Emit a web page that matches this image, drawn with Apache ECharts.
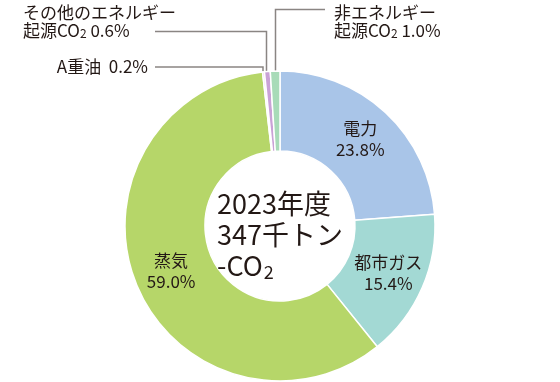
<!DOCTYPE html>
<html><head><meta charset="utf-8">
<script src="https://cdn.jsdelivr.net/npm/echarts@6/dist/echarts.min.js"></script>
<style>html,body{margin:0;padding:0;background:#fff}#c{width:560px;height:382px}</style>
</head><body><div id="c"></div>
<script>
const categories = ['電力', '都市ガス', '蒸気', 'A重油', 'その他のエネルギー起源CO2', '非エネルギー起源CO2'];
const values = [23.8, 15.4, 59.0, 0.2, 0.6, 1.0];
const colors = ['#a9c5e8', '#a3d9d4', '#b6d669', '#f3cfe3', '#c9a2d6', '#a8dbb8'];
const insideLabels = ['電力', '都市ガス', '蒸気'];
const centerLines = ['2023年度', '347千トン', '-CO'];

const FONT = '"Noto Sans CJK JP", "Noto Sans", sans-serif';
const TXT = '#231815';
const LINE = '#8a8583';

const chart = echarts.init(document.getElementById('c'), null, {renderer: 'canvas'});
const data = categories.map((c, i) => ({
  name: c, value: values[i],
  itemStyle: {color: colors[i]},
  label: {show: insideLabels.includes(c)}
}));

chart.setOption({
  animation: false,
  series: [{
    type: 'pie',
    center: [280, 226],
    radius: [75, 155],
    startAngle: 90,
    clockwise: true,
    silent: true,
    itemStyle: {borderColor: '#fff', borderWidth: 1.5},
    label: {
      position: 'inside',
      formatter: p => p.name + '\n' + p.value.toFixed(1) + '%',
      fontFamily: FONT, fontSize: 17, lineHeight: 21, color: TXT
    },
    labelLine: {show: false},
    data: data
  }],
  graphic: [
    {type: 'text', left: 'center', top: 188, z: 10, style: {
      text: centerLines[0] + '\n' + centerLines[1] + '\n{n|' + centerLines[2] + '}{s|2}',
      fontFamily: FONT, fontSize: 27, lineHeight: 31, fill: TXT, align: 'center',
      rich: {n: {fontFamily: FONT, fontSize: 27, fill: TXT}, s: {fontFamily: FONT, fontSize: 18, fill: TXT, verticalAlign: 'bottom', padding: [8, 0, 0, 1]}}
    }},
    {type: 'polyline', shape: {points: [[155, 31.5], [266.5, 31.5], [266.5, 73]]}, style: {stroke: LINE, lineWidth: 1.5, fill: null}},
    {type: 'polyline', shape: {points: [[155, 67], [263, 67], [263, 73]]}, style: {stroke: LINE, lineWidth: 1.5, fill: null}},
    {type: 'polyline', shape: {points: [[325, 9.5], [275.5, 9.5], [275.5, 73]]}, style: {stroke: LINE, lineWidth: 1.5, fill: null}},
    {type: 'text', x: 23, y: 4, style: {
      text: 'その他のエネルギー\n起源CO{s|2} 0.6%', fontFamily: FONT, fontSize: 17, lineHeight: 18, fill: TXT, align: 'left',
      rich: {s: {fontFamily: FONT, fontSize: 12, fill: TXT, padding: [4, 0, 0, 0]}}
    }},
    {type: 'text', x: 148, y: 58, style: {
      text: 'A重油  0.2%', fontFamily: FONT, fontSize: 17, lineHeight: 18, fill: TXT, align: 'right'
    }},
    {type: 'text', x: 334, y: 4, style: {
      text: '非エネルギー\n起源CO{s|2} 1.0%', fontFamily: FONT, fontSize: 17, lineHeight: 18, fill: TXT, align: 'left',
      rich: {s: {fontFamily: FONT, fontSize: 12, fill: TXT, padding: [4, 0, 0, 0]}}
    }}
  ]
});
</script></body></html>
